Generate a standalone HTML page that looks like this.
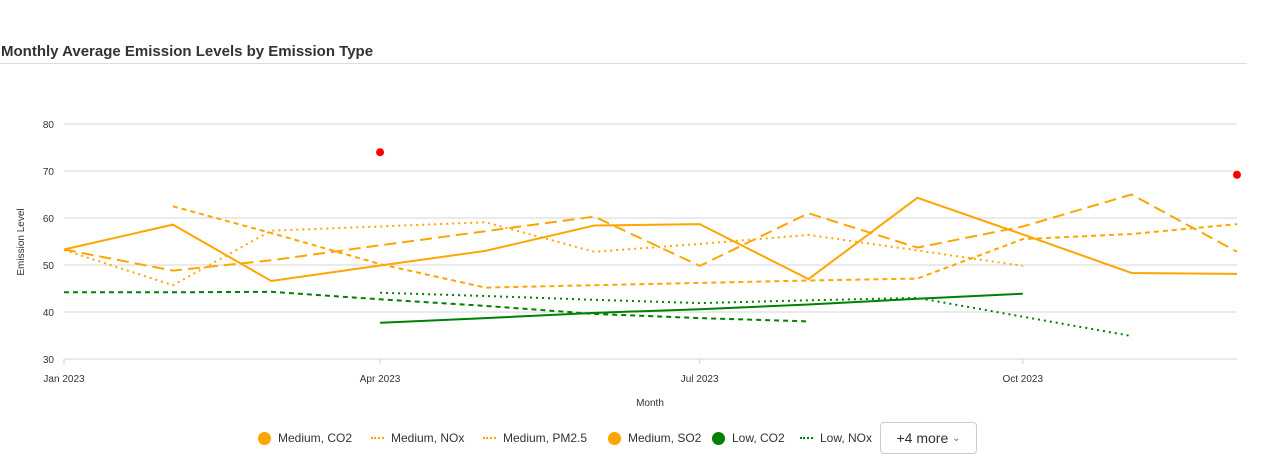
<!DOCTYPE html>
<html><head><meta charset="utf-8"><style>
body{margin:0;width:1280px;height:454px;background:#fff;font-family:"Liberation Sans",sans-serif;overflow:hidden;position:relative}
#title{position:absolute;left:1px;top:43px;font-size:15px;font-weight:bold;color:#333}
#rule{position:absolute;left:0;top:63px;width:1247px;height:1px;background:#ddd}
svg{position:absolute;left:0;top:0}
.leg{position:absolute;top:431px;font-size:12px;color:#333;display:flex;align-items:center}
#more{position:absolute;left:880px;top:422px;width:95px;height:30px;border:1px solid #ccc;border-radius:4px;font-size:14px;color:#333;display:flex;align-items:center;justify-content:center}
</style></head><body>
<div id="title">Monthly Average Emission Levels by Emission Type</div>
<div id="rule"></div>
<svg id="chart" width="1280" height="454"></svg>
<div id="legend"></div>
<div id="more">+4 more&nbsp;<span style="font-size:10px;color:#666">&#8964;</span></div>
<script>
const months=["2023-01-01","2023-02-01","2023-03-01","2023-04-01","2023-05-01","2023-06-01","2023-07-01","2023-08-01","2023-09-01","2023-10-01","2023-11-01","2023-12-01"];
const yTicks=[30,40,50,60,70,80];
const xTickDates=["2023-01-01","2023-04-01","2023-07-01","2023-10-01"];
const xTickLabels=["Jan 2023","Apr 2023","Jul 2023","Oct 2023"];
const medCO2=[53.3,58.6,46.6,49.9,53,58.4,58.7,47,64.3,56.5,48.3,48.1];
const medNOx=[null,62.5,56.8,50.2,45.2,45.7,46.2,46.7,47.1,55.5,56.6,58.7];
const medPM25=[53.3,48.8,51,54.2,57.2,60.3,49.8,61,53.7,58.2,65,52.8];
const medSO2=[53.2,45.7,57.3,58.2,59.1,52.8,54.5,56.4,53.1,49.8,null,null];
const lowCO2=[null,null,null,37.7,38.7,39.8,40.6,41.6,42.8,43.9,null,null];
const lowNOx=[44.2,44.2,44.3,42.7,41.3,39.6,38.7,38,null,null,null,null];
const lowPM25=[null,null,null,44.1,43.4,42.6,41.9,42.5,43,39,34.9,null];
const highVals=[null,null,null,74,null,null,null,null,null,null,null,69.2];
const NS="http://www.w3.org/2000/svg",svg=document.getElementById('chart');
const t0=Date.parse("2023-01-01"),t1=Date.parse("2023-12-01");
const X0=64,X1=1237,Y0=359,Y1=124;
const xs=d=>X0+(Date.parse(d)-t0)/(t1-t0)*(X1-X0);
const ys=v=>Y0-(v-30)/50*(Y0-Y1);
function mk(tag,at,parent){const e=document.createElementNS(NS,tag);for(const k in at)e.setAttribute(k,at[k]);(parent||svg).appendChild(e);return e;}
yTicks.forEach(v=>{
 const l=mk('line',{x1:X0,x2:X1,y1:ys(v),y2:ys(v),stroke:'#d6d6d6'});
 
 
 const t=mk('text',{x:54,y:ys(v)+4,'text-anchor':'end','font-size':10,fill:'#333'});t.textContent=v;
 
 
});
xTickDates.forEach((d,i)=>{
 mk('line',{x1:xs(d),x2:xs(d),y1:Y0,y2:Y0+5,stroke:'#ccc'});
 const t=mk('text',{x:xs(d),y:382,'text-anchor':'middle','font-size':10,fill:'#333'});t.textContent=xTickLabels[i];
 
 
});
let t=mk('text',{x:650,y:406,'text-anchor':'middle','font-size':10,fill:'#333'});t.textContent="Month";


t=mk('text',{x:24,y:242,'text-anchor':'middle','font-size':10,fill:'#333',transform:'rotate(-90 24 242)'});t.textContent="Emission Level";


const series=[
 [medCO2,'#ffa500','','series-medium-co2'],
 [medNOx,'#ffa500','5 4','series-medium-nox'],
 [medPM25,'#ffa500','12 6','series-medium-pm25'],
 [medSO2,'#ffa500','2 4','series-medium-so2'],
 [lowCO2,'#008000','','series-low-co2'],
 [lowNOx,'#008000','5 4','series-low-nox'],
 [lowPM25,'#008000','2 4','series-low-pm25']];
series.forEach(s=>{
 let d='',pen=false;
 s[0].forEach((v,i)=>{if(v==null){pen=false;return;}d+=(pen?'L':'M')+xs(months[i]).toFixed(1)+' '+ys(v).toFixed(1);pen=true;});
 const p=mk('path',{d:d,fill:'none',stroke:s[1],'stroke-width':2,'stroke-dasharray':s[2]});
 
 
});
highVals.forEach((v,i)=>{if(v==null)return;
 const c=mk('circle',{cx:xs(months[i]),cy:ys(v),r:4,fill:'#ff0000'});
 
 
});
const legend=document.getElementById('legend');
const legItems=[["Medium, CO2",258,'dot','#ffa500'],["Medium, NOx",371,'dash','#ffa500'],["Medium, PM2.5",483,'dash','#ffa500'],["Medium, SO2",608,'dot','#ffa500'],["Low, CO2",712,'dot','#008000'],["Low, NOx",800,'dash','#008000']];
legItems.forEach(it=>{
 const d=document.createElement('div');d.className='leg';d.style.left=it[1]+'px';
 
 
 const m=it[2]=='dot'?`<span style="display:inline-block;width:13px;height:13px;border-radius:50%;background:${it[3]};margin-right:7px"></span>`:`<span style="display:inline-block;width:13px;height:0;border-top:2px dotted ${it[3]};margin-right:7px"></span>`;
 d.innerHTML=m+it[0];legend.appendChild(d);
});
</script>
</body></html>
